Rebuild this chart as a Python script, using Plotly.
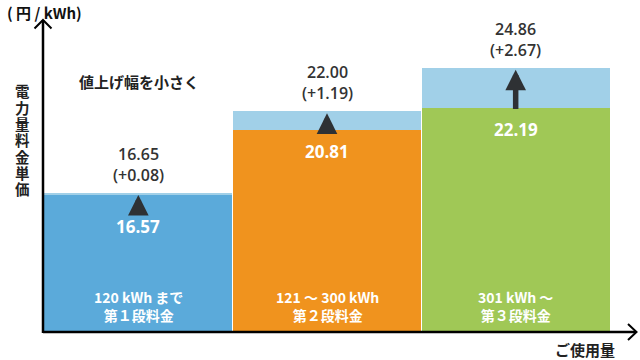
import plotly.graph_objects as go

# ---- data ----
tiers = ["第１段料金", "第２段料金", "第３段料金"]
tier_ranges = ["120 kWh まで", "121 ～ 300 kWh", "301 kWh ～"]
old_price = [16.57, 20.81, 22.19]
new_price = [16.65, 22.00, 24.86]
increase = [0.08, 1.19, 2.67]

base_colors = ["#5BAADA", "#F0931E", "#A0C856"]
light_color = "#A1D0E8"
dark = "#333333"

W, H = 640, 360
ML, MR, MT, MB = 44, 5, 20, 28
PW, PH = W - ML - MR, H - MT - MB
PX_PER_UNIT = 15.26

def px(x):
    return (x - ML) / PW

def py(y):
    return (H - MB - y) / PH

xs = list(range(len(tiers)))

fig = go.Figure()
fig.add_trace(go.Bar(x=xs, y=old_price, marker=dict(color=base_colors, line=dict(width=0)),
                     width=0.995, hoverinfo="skip", showlegend=False))
fig.add_trace(go.Bar(x=xs, y=increase, base=old_price,
                     marker=dict(color=light_color, line=dict(width=0)),
                     width=0.995, hoverinfo="skip", showlegend=False))

ann = []
num_font = dict(family="Open Sans, Noto Sans, sans-serif", size=16, color=dark, weight=600)
for i in xs:
    # new price label
    ann.append(dict(x=i, y=new_price[i], xref="x", yref="y", showarrow=False,
                    text=f"{new_price[i]:.2f}<br>(+{increase[i]:.2f})",
                    font=num_font, yanchor="bottom", yshift=5))
    # arrow (head at the new price, tail toward the old price)
    tail = max(increase[i] * PX_PER_UNIT, 20)
    ann.append(dict(x=i, y=new_price[i], xref="x", yref="y",
                    ax=0, ay=tail, yshift=-2,
                    showarrow=True, arrowhead=2, arrowsize=0.75, arrowwidth=5.5,
                    arrowcolor="#2E3134", text=""))
    # old price label
    ann.append(dict(x=i, y=old_price[i], xref="x", yref="y", showarrow=False,
                    text=f"{old_price[i]:.2f}",
                    font=dict(family="Open Sans, Noto Sans, sans-serif", size=17,
                              color="white", weight=700),
                    yanchor="top", yshift=-19 if i == 0 else -8))
    # tier label
    ann.append(dict(x=i, y=py(306), xref="x", yref="paper", showarrow=False,
                    text=f"{tier_ranges[i]}<br>{tiers[i]}",
                    font=dict(family="Noto Sans CJK JP, Noto Sans, sans-serif", size=14,
                              color="white", weight=700),
                    yanchor="middle"))

jp = "Noto Sans CJK JP, Noto Sans, sans-serif"
ann.append(dict(x=px(44), y=py(12), xref="paper", yref="paper", showarrow=False,
                text="( 円 / kWh)", font=dict(family=jp, size=15, color="#111", weight=700),
                xanchor="center", yanchor="middle"))
ann.append(dict(x=px(139), y=py(82), xref="paper", yref="paper", showarrow=False,
                text="値上げ幅を小さく", font=dict(family=jp, size=15, color="#222", weight=700),
                xanchor="center", yanchor="middle"))
ann.append(dict(x=px(585), y=py(349), xref="paper", yref="paper", showarrow=False,
                text="ご使用量", font=dict(family=jp, size=15, color="#222", weight=700),
                xanchor="center", yanchor="middle"))
for k, ch in enumerate("電力量料金単価"):
    ann.append(dict(x=px(22), y=py(91 + 16.3 * k), xref="paper", yref="paper", showarrow=False,
                    text=ch, font=dict(family=jp, size=14.5, color="#222", weight=700),
                    xanchor="center", yanchor="middle"))

shapes = [
    dict(type="line", xref="paper", yref="paper", x0=px(43), y0=py(332), x1=px(636), y1=py(332),
         line=dict(color="black", width=2.5), layer="above"),
    dict(type="line", xref="paper", yref="paper", x0=px(43), y0=py(333), x1=px(43), y1=py(20),
         line=dict(color="black", width=2.5), layer="above"),
    dict(type="path", xref="paper", yref="paper",
         path=f"M{px(628)},{py(324)} L{px(636.5)},{py(332)} L{px(628)},{py(340)}",
         line=dict(color="black", width=2), layer="above"),
    dict(type="path", xref="paper", yref="paper",
         path=f"M{px(34.5)},{py(28.5)} L{px(43)},{py(20)} L{px(51.5)},{py(28.5)}",
         line=dict(color="black", width=2), layer="above"),
]

y_lo = 7.54
y_hi = y_lo + PH / PX_PER_UNIT
x_lo = -0.5
x_hi = x_lo + PW / 188.67

fig.update_layout(
    width=W, height=H,
    margin=dict(l=ML, r=MR, t=MT, b=MB),
    paper_bgcolor="white", plot_bgcolor="white",
    barmode="overlay", bargap=0,
    xaxis=dict(range=[x_lo, x_hi], visible=False, fixedrange=True),
    yaxis=dict(range=[y_lo, y_hi], visible=False, fixedrange=True),
    annotations=ann, shapes=shapes,
    showlegend=False,
)

fig.write_html("out.html", config={"displayModeBar": False},
               post_script="document.body.style.margin='0';document.body.style.overflow='hidden';")
